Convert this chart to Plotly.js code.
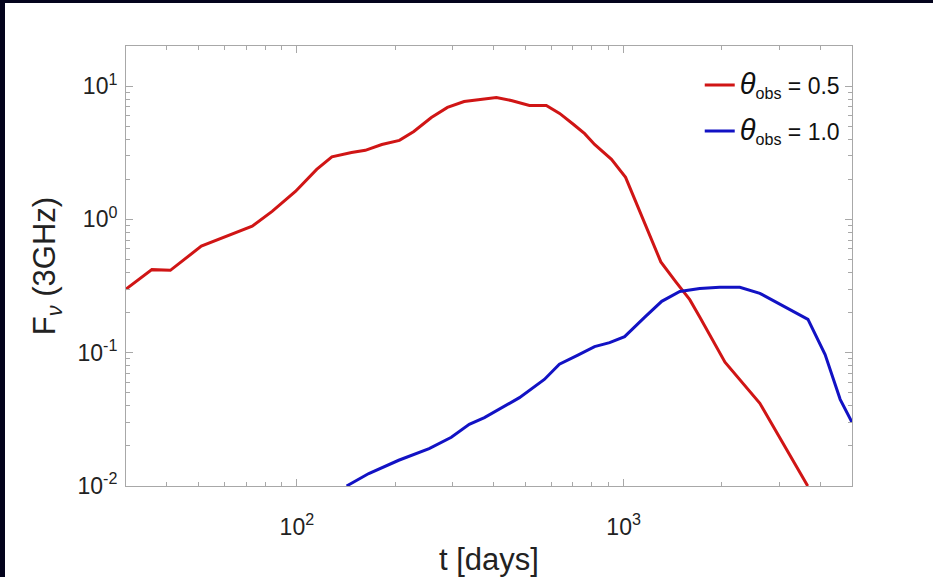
<!DOCTYPE html>
<html>
<head>
<meta charset="utf-8">
<script src="https://cdn.plot.ly/plotly-3.0.1.min.js"></script>
<style>
html, body { margin: 0; padding: 0; background: #03031c; width: 933px; height: 577px; overflow: hidden; }
#chart { position: absolute; left: 5px; top: 3px; width: 928px; height: 574px; }
</style>
</head>
<body>
<div id="chart"></div>
<script>
// Red curve, theta_obs = 0.5
const tRed = [30, 36, 41, 51, 73, 84, 99, 115, 128, 147, 162, 182, 206, 228, 258, 289, 325, 361, 408, 453, 515, 580, 637, 700, 760, 815, 918, 1014, 1081, 1185, 1300, 1445, 1594, 1710, 2043, 2612, 3660];
const fRed = [0.30, 0.42, 0.415, 0.63, 0.89, 1.15, 1.62, 2.37, 2.95, 3.18, 3.3, 3.65, 3.92, 4.57, 5.82, 6.92, 7.67, 7.94, 8.22, 7.8, 7.16, 7.16, 6.24, 5.2, 4.4, 3.65, 2.82, 2.07, 1.41, 0.84, 0.48, 0.34, 0.25, 0.185, 0.085, 0.0417, 0.01];

// Blue curve, theta_obs = 1.0
const tBlue = [142, 166, 205, 254, 297, 337, 375, 417, 480, 572, 636, 722, 815, 906, 1007, 1159, 1308, 1486, 1710, 1968, 2268, 2612, 3010, 3666, 4137, 4600, 5000];
const fBlue = [0.01, 0.0124, 0.0156, 0.0191, 0.0232, 0.029, 0.0326, 0.0376, 0.046, 0.063, 0.082, 0.0955, 0.111, 0.119, 0.132, 0.184, 0.243, 0.288, 0.303, 0.31, 0.31, 0.279, 0.23, 0.178, 0.097, 0.0447, 0.030];

const seriesNames = ['<span style="font-size:29px"><i>θ</i></span><sub>obs</sub> = 0.5', '<span style="font-size:29px"><i>θ</i></span><sub>obs</sub> = 1.0'];

const xTickVals = [100, 1000];
const xTickText = ['10<sup>2</sup>', '10<sup>3</sup>'];
const xMinorVals = [30, 40, 50, 60, 70, 80, 90, 200, 300, 400, 500, 600, 700, 800, 900, 2000, 3000, 4000, 5000];
const yTickVals = [0.01, 0.1, 1, 10];
const yTickText = ['10<sup>-2</sup>', '10<sup>-1</sup>', '10<sup>0</sup>', '10<sup>1</sup>'];
const yMinorVals = [0.02, 0.03, 0.04, 0.05, 0.06, 0.07, 0.08, 0.09, 0.2, 0.3, 0.4, 0.5, 0.6, 0.7, 0.8, 0.9, 2, 3, 4, 5, 6, 7, 8, 9, 20];

const frame = '#a8a8a8';

const traces = [
  { x: tRed, y: fRed, type: 'scatter', mode: 'lines', name: seriesNames[0], legendgroup: 'a',
    line: { color: '#d01515', width: 3 } },
  { x: tBlue, y: fBlue, type: 'scatter', mode: 'lines', name: seriesNames[1], legendgroup: 'b',
    line: { color: '#1212c4', width: 3 } }
];

const layout = {
  width: 928, height: 574,
  paper_bgcolor: '#ffffff', plot_bgcolor: '#ffffff',
  margin: { l: 121, r: 81, t: 43, b: 91 },
  font: { family: 'Liberation Sans, Arial, sans-serif', color: '#222222' },
  showlegend: true,
  legend: {
    x: 0.99, y: 0.96, xanchor: 'right', yanchor: 'top',
    bgcolor: 'rgba(0,0,0,0)', borderwidth: 0,
    font: { size: 23, color: '#111111' },
    traceorder: 'grouped', tracegroupgap: 13, itemwidth: 30
  },
  xaxis: {
    type: 'log', range: [Math.log10(30), Math.log10(5000)],
    showgrid: false, zeroline: false,
    showline: true, linecolor: frame, linewidth: 1, mirror: 'allticks',
    ticks: 'inside', ticklen: 7, tickcolor: frame, tickwidth: 1,
    tickmode: 'array', tickvals: xTickVals, ticktext: xTickText,
    ticklabelstandoff: 20,
    tickfont: { family: 'Liberation Sans Narrow, Liberation Sans, Arial', size: 23, color: '#222222' },
    minor: { tickmode: 'array', tickvals: xMinorVals, ticks: 'inside', ticklen: 4, tickcolor: frame, showgrid: false },
    title: { text: 't [days]', font: { size: 31, color: '#222222' }, standoff: 36 }
  },
  yaxis: {
    type: 'log', range: [-2, Math.log10(20)],
    showgrid: false, zeroline: false,
    showline: true, linecolor: frame, linewidth: 1, mirror: 'allticks',
    ticks: 'inside', ticklen: 7, tickcolor: frame, tickwidth: 1,
    tickmode: 'array', tickvals: yTickVals, ticktext: yTickText,
    ticklabelstandoff: 3,
    tickfont: { size: 23, color: '#222222' },
    minor: { tickmode: 'array', tickvals: yMinorVals, ticks: 'inside', ticklen: 4, tickcolor: frame, showgrid: false },
    title: { text: 'F<sub><i>ν</i></sub> (3GHz)', font: { size: 31, color: '#222222' }, standoff: 12 }
  }
};

Plotly.newPlot('chart', traces, layout, { staticPlot: true, displayModeBar: false });
</script>
</body>
</html>
